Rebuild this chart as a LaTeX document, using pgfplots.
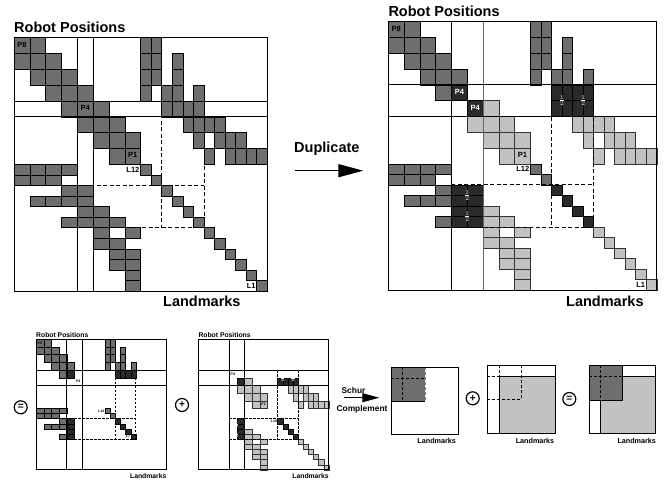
\documentclass[border=0pt]{standalone}
\usepackage{pgfplots}
\pgfplotsset{compat=1.18}
\usepackage{fontspec}
\setmainfont{Liberation Sans}
\usetikzlibrary{arrows.meta}
\definecolor{cdark}{RGB}{110,110,110}
\definecolor{clight}{RGB}{194,194,194}
\definecolor{cblk}{RGB}{42,42,42}
\newcommand{\fs}[1]{\fontsize{#1}{#1}\selectfont}

% cell lists: row/col block indices (poses first, then landmarks)
\def\Ldark{0/0,0/1,1/0,1/1,1/2,2/1,2/2,2/3,3/2,3/3,3/4,4/3,4/4,4/5,5/4,5/5,5/6,6/5,6/6,6/7,7/6,7/7,%
0/8,0/9,1/8,1/9,1/11,2/8,2/9,2/11,3/8,3/10,3/11,3/13,4/10,4/11,4/12,4/13,5/12,5/13,5/14,5/15,6/13,6/15,6/16,6/17,7/14,7/16,7/17,7/18,7/19,%
8/0,8/1,8/2,8/3,9/0,9/1,9/2,10/3,10/4,11/1,11/2,11/3,11/4,12/4,12/5,13/3,13/4,13/5,13/6,14/5,14/7,15/5,15/6,16/6,16/7,17/6,17/7,18/7,19/7,%
8/8,9/9,10/10,11/11,12/12,13/13,14/14,15/15,16/16,17/17,18/18,19/19}
\def\Ddark{0/0,0/1,1/0,1/1,1/2,2/1,2/2,2/3,3/2,3/3,3/4,4/3,%
0/9,0/10,1/9,1/10,1/12,2/9,2/10,2/12,3/9,3/11,3/12,3/14,%
9/0,9/1,9/2,9/3,10/0,10/1,10/2,11/3,12/1,12/2,12/3,14/3,9/9,10/10}
\def\Dblkone{4/4,4/11,4/12,4/13,4/14,11/4,12/4,13/4,14/4,11/11,12/12,13/13,14/14}
\def\Dblktwo{5/5,5/11,5/12,5/13,5/14,11/5,12/5,13/5,14/5,11/11,12/12,13/13,14/14}
\def\Dlight{5/6,6/5,6/6,6/7,7/6,7/7,7/8,8/7,8/8,%
6/13,6/14,6/15,6/16,7/14,7/16,7/17,7/18,8/15,8/17,8/18,8/19,8/20,%
13/6,14/6,14/7,15/6,15/8,16/6,16/7,17/7,17/8,18/7,18/8,19/8,20/8,%
15/15,16/16,17/17,18/18,19/19,20/20}

\newcommand{\cells}[6]{%
  \foreach \ri/\ci in #6 {%
    \pgfmathsetmacro\sa{(\ci<#4) ? (3*\ci) : (2*\ci+#4)}%
    \pgfmathsetmacro\wa{(\ci<#4) ? 3 : 2}%
    \pgfmathsetmacro\sb{(\ri<#4) ? (3*\ri) : (2*\ri+#4)}%
    \pgfmathsetmacro\wb{(\ri<#4) ? 3 : 2}%
    \pgfmathsetmacro\xa{#1+#3*\sa}%
    \pgfmathsetmacro\xb{#1+#3*(\sa+\wa)}%
    \pgfmathsetmacro\ya{#2+#3*\sb}%
    \pgfmathsetmacro\yb{#2+#3*(\sb+\wb)}%
    \edef\doit{\noexpand\addplot[#5] coordinates {(\xa,\ya) (\xb,\ya) (\xb,\yb) (\xa,\yb)} -- cycle;}%
    \doit
  }%
}
\newcommand{\seg}[8]{%
  \pgfmathsetmacro\xa{#1+#3*(#4)}\pgfmathsetmacro\ya{#2+#3*(#5)}%
  \pgfmathsetmacro\xb{#1+#3*(#6)}\pgfmathsetmacro\yb{#2+#3*(#7)}%
  \edef\doit{\noexpand\addplot[#8] coordinates {(\xa,\ya) (\xb,\yb)};}\doit}
\newcommand{\mybox}[5]{%
  \pgfmathsetmacro\xb{#1+#3*#4}\pgfmathsetmacro\yb{#2+#3*#4}%
  \edef\doit{\noexpand\addplot[#5] coordinates {(#1,#2) (\xb,#2) (\xb,\yb) (#1,\yb)} -- cycle;}\doit}
\newcommand{\lab}[7]{%
  \pgfmathsetmacro\xa{#1+#3*(#4)}\pgfmathsetmacro\ya{#2+#3*(#5)}%
  \edef\doit{\noexpand\node[\unexpanded{#6}] at (axis cs:\xa,\ya) {\unexpanded{#7}};}\doit}

\pgfplotsset{
  dk/.style={fill=cdark,draw=black,line width=0.6pt},
  lt/.style={fill=clight,draw=black!80,line width=0.6pt},
  bk/.style={fill=cblk,draw=black,line width=0.6pt},
  sdk/.style={fill=cdark,draw=black,line width=0.35pt},
  slt/.style={fill=clight,draw=black!80,line width=0.35pt},
  sbk/.style={fill=cblk,draw=black,line width=0.35pt},
  dsh/.style={black,line width=1pt,dash pattern=on 4pt off 2.5pt},
  sdsh/.style={black,line width=0.7pt,dash pattern=on 2.5pt off 1.5pt},
}

\begin{document}
\begin{tikzpicture}
\begin{axis}[
  scale only axis, width=671pt, height=480pt,
  xmin=0, xmax=671, ymin=0, ymax=480, y dir=reverse,
  hide axis, clip=false,
]
\addplot[draw=none] coordinates {(0,0) (671,480)};

% ---------- left big matrix ----------
\cells{14}{37.7}{5.278}{8}{dk}{\Ldark}
\mybox{14}{37.7}{5.278}{48}{black,line width=1pt}
\seg{14}{37.7}{5.278}{12}{0}{12}{48}{black,line width=1pt}
\seg{14}{37.7}{5.278}{15}{0}{15}{48}{black,line width=1pt}
\seg{14}{37.7}{5.278}{0}{12}{48}{12}{black,line width=1pt}
\seg{14}{37.7}{5.278}{0}{15}{48}{15}{black,line width=1pt}
\seg{14}{37.7}{5.278}{28}{12}{28}{36}{dsh}
\seg{14}{37.7}{5.278}{36}{12}{36}{36}{dsh}
\seg{14}{37.7}{5.278}{12}{28}{36}{28}{dsh}
\seg{14}{37.7}{5.278}{12}{36}{36}{36}{dsh}
\lab{14}{37.7}{5.278}{1.5}{1.4}{font=\bfseries\fs{7.5},inner sep=0pt}{P8}
\lab{14}{37.7}{5.278}{13.5}{13.3}{font=\bfseries\fs{7.5},inner sep=0pt}{P4}
\lab{14}{37.7}{5.278}{22.5}{22.3}{font=\bfseries\fs{7.5},inner sep=0pt}{P1}
\lab{14}{37.7}{5.278}{23.8}{25}{anchor=east,font=\bfseries\fs{7.5},inner sep=0pt}{L12}
\lab{14}{37.7}{5.278}{45.8}{47}{anchor=east,font=\bfseries\fs{7.5},inner sep=0pt}{L1}
\node[anchor=base west,font=\bfseries\fs{14.5},inner sep=0pt] at (axis cs:14,32.7) {Robot Positions};
\node[anchor=base west,font=\bfseries\fs{14.5},inner sep=0pt] at (axis cs:163,306) {Landmarks};

% ---------- arrow Duplicate ----------
\node[anchor=base west,font=\bfseries\fs{14.5},inner sep=0pt] at (axis cs:294,152.3) {Duplicate};
\addplot[black,line width=1.3pt,-{Triangle[length=25pt,width=13pt]}] coordinates {(295,170.7) (363.3,170.7)};

% ---------- right big matrix ----------
\cells{388.3}{21.7}{5.265}{9}{dk}{\Ddark}
\cells{388.3}{21.7}{5.265}{9}{lt}{\Dlight}
\cells{388.3}{21.7}{5.265}{9}{bk}{\Dblkone}
\cells{388.3}{21.7}{5.265}{9}{bk}{\Dblktwo}
\mybox{388.3}{21.7}{5.265}{51}{black,line width=1pt}
\seg{388.3}{21.7}{5.265}{12}{0}{12}{51}{black,line width=1pt}
\seg{388.3}{21.7}{5.265}{18}{0}{18}{51}{black!60,line width=1pt}
\seg{388.3}{21.7}{5.265}{0}{12}{51}{12}{black,line width=1pt}
\seg{388.3}{21.7}{5.265}{0}{18}{51}{18}{black,line width=1pt}
\seg{388.3}{21.7}{5.265}{31}{12}{31}{39}{dsh}
\seg{388.3}{21.7}{5.265}{39}{12}{39}{39}{dsh}
\seg{388.3}{21.7}{5.265}{12}{31}{39}{31}{dsh}
\seg{388.3}{21.7}{5.265}{12}{39}{39}{39}{dsh}
\lab{388.3}{21.7}{5.265}{1.5}{1.4}{font=\bfseries\fs{7.5},inner sep=0pt}{P8}
\lab{388.3}{21.7}{5.265}{13.5}{13.3}{text=white,font=\bfseries\fs{7.5},inner sep=0pt}{P4}
\lab{388.3}{21.7}{5.265}{16.5}{16.3}{text=white,font=\bfseries\fs{7.5},inner sep=0pt}{P4}
\lab{388.3}{21.7}{5.265}{25.5}{25.3}{font=\bfseries\fs{7.5},inner sep=0pt}{P1}
\lab{388.3}{21.7}{5.265}{26.8}{28}{anchor=east,font=\bfseries\fs{7.5},inner sep=0pt}{L12}
\lab{388.3}{21.7}{5.265}{48.8}{50}{anchor=east,font=\bfseries\fs{7.5},inner sep=0pt}{L1}
\lab{388.3}{21.7}{5.265}{33}{15}{text=white,font=\fs{9},inner sep=0pt}{$\frac{1}{2}$}
\lab{388.3}{21.7}{5.265}{37}{15}{text=white,font=\fs{9},inner sep=0pt}{$\frac{1}{2}$}
\lab{388.3}{21.7}{5.265}{15}{33}{text=white,font=\fs{9},inner sep=0pt}{$\frac{1}{2}$}
\lab{388.3}{21.7}{5.265}{15}{37}{text=white,font=\fs{9},inner sep=0pt}{$\frac{1}{2}$}
\node[anchor=base west,font=\bfseries\fs{14.5},inner sep=0pt] at (axis cs:388.3,16.7) {Robot Positions};
\node[anchor=base west,font=\bfseries\fs{14.5},inner sep=0pt] at (axis cs:566,306) {Landmarks};

% ---------- small matrix 1 ----------
\cells{36}{339.3}{2.56}{9}{sdk}{\Ddark}
\cells{36}{339.3}{2.56}{9}{sbk}{\Dblkone}
\mybox{36}{339.3}{2.56}{51}{black,line width=0.8pt}
\seg{36}{339.3}{2.56}{12}{0}{12}{51}{black,line width=0.8pt}
\seg{36}{339.3}{2.56}{18}{0}{18}{51}{black,line width=0.8pt}
\seg{36}{339.3}{2.56}{0}{12}{51}{12}{black,line width=0.8pt}
\seg{36}{339.3}{2.56}{0}{18}{51}{18}{black,line width=0.8pt}
\seg{36}{339.3}{2.56}{31}{15}{31}{39}{sdsh}
\seg{36}{339.3}{2.56}{39}{15}{39}{39}{sdsh}
\seg{36}{339.3}{2.56}{15}{31}{39}{31}{sdsh}
\seg{36}{339.3}{2.56}{15}{39}{39}{39}{sdsh}
\lab{36}{339.3}{2.56}{1.5}{1.5}{font=\bfseries\fs{3.5},inner sep=0pt}{P8}
\lab{36}{339.3}{2.56}{16.5}{16.5}{font=\bfseries\fs{3.5},inner sep=0pt}{P4}
\lab{36}{339.3}{2.56}{26.8}{28}{anchor=east,font=\bfseries\fs{3.5},inner sep=0pt}{L12}
\lab{36}{339.3}{2.56}{36.8}{38}{anchor=east,font=\bfseries\fs{3.5},inner sep=0pt}{L7}
\node[anchor=base west,font=\bfseries\fs{6.8},inner sep=0pt] at (axis cs:36,337) {Robot Positions};
\node[anchor=base east,font=\bfseries\fs{6.8},inner sep=0pt] at (axis cs:166.6,478) {Landmarks};

% ---------- small matrix 2 ----------
\cells{198.3}{339.3}{2.56}{9}{slt}{\Dlight}
\cells{198.3}{339.3}{2.56}{9}{sbk}{\Dblktwo}
\mybox{198.3}{339.3}{2.56}{51}{black,line width=0.8pt}
\seg{198.3}{339.3}{2.56}{12}{0}{12}{51}{black,line width=0.8pt}
\seg{198.3}{339.3}{2.56}{18}{0}{18}{51}{black,line width=0.8pt}
\seg{198.3}{339.3}{2.56}{0}{12}{51}{12}{black,line width=0.8pt}
\seg{198.3}{339.3}{2.56}{0}{18}{51}{18}{black,line width=0.8pt}
\seg{198.3}{339.3}{2.56}{31}{12}{31}{39}{sdsh}
\seg{198.3}{339.3}{2.56}{39}{12}{39}{39}{sdsh}
\seg{198.3}{339.3}{2.56}{12}{31}{39}{31}{sdsh}
\seg{198.3}{339.3}{2.56}{12}{39}{39}{39}{sdsh}
\lab{198.3}{339.3}{2.56}{13.5}{13.8}{font=\bfseries\fs{3.5},inner sep=0pt}{P4}
\lab{198.3}{339.3}{2.56}{25.5}{25.5}{font=\bfseries\fs{3.5},inner sep=0pt}{P1}
\lab{198.3}{339.3}{2.56}{30.8}{32}{anchor=east,font=\bfseries\fs{3.5},inner sep=0pt}{L10}
\lab{198.3}{339.3}{2.56}{33}{15}{text=white,font=\fs{4.5},inner sep=0pt}{$\frac{1}{2}$}
\lab{198.3}{339.3}{2.56}{37}{15}{text=white,font=\fs{4.5},inner sep=0pt}{$\frac{1}{2}$}
\lab{198.3}{339.3}{2.56}{15}{33}{text=white,font=\fs{4.5},inner sep=0pt}{$\frac{1}{2}$}
\lab{198.3}{339.3}{2.56}{15}{37}{text=white,font=\fs{4.5},inner sep=0pt}{$\frac{1}{2}$}
\node[anchor=base west,font=\bfseries\fs{6.8},inner sep=0pt] at (axis cs:198.3,337) {Robot Positions};
\node[anchor=base east,font=\bfseries\fs{6.8},inner sep=0pt] at (axis cs:328.9,478) {Landmarks};

% ---------- circled operators ----------
\addplot[black,only marks,mark=o,mark size=6.5pt,mark options={line width=1.2pt}] coordinates {(20.7,407.3) (182,405) (472.7,398.3) (569.3,399)};
\node[font=\bfseries\fs{10},inner sep=0pt] at (axis cs:20.7,407.3) {=};
\node[font=\bfseries\fs{10},inner sep=0pt] at (axis cs:182,405) {+};
\node[font=\bfseries\fs{10},inner sep=0pt] at (axis cs:472.7,398.3) {+};
\node[font=\bfseries\fs{10},inner sep=0pt] at (axis cs:569.3,399) {=};

% ---------- Schur complement ----------
\node[font=\bfseries\fs{8.4},inner sep=0pt] at (axis cs:353.5,390) {Schur};
\node[font=\bfseries\fs{8.4},inner sep=0pt] at (axis cs:362,409.3) {Complement};
\addplot[black,line width=1pt,-{Triangle[length=17pt,width=9pt]}] coordinates {(344.3,397.7) (379.3,397.7)};

% square 1
\addplot[fill=cdark,draw=none] coordinates {(391,367.3) (425,367.3) (425,401) (391,401)} -- cycle;
\addplot[black,line width=0.8pt] coordinates {(391,401) (425,401)};
\addplot[black!50,line width=0.8pt,dash pattern=on 3pt off 2pt] coordinates {(425,367.3) (425,401)};
\addplot[black,line width=0.8pt,dash pattern=on 3pt off 2pt] coordinates {(402.3,367.3) (402.3,401)};
\addplot[black,line width=0.8pt,dash pattern=on 3pt off 2pt] coordinates {(391,378.3) (425,378.3)};
\addplot[black,line width=1pt] coordinates {(391,367.3) (458.3,367.3) (458.3,434) (391,434)} -- cycle;
\node[font=\bfseries\fs{7.2},inner sep=0pt] at (axis cs:436.7,441) {Landmarks};

% square 2
\addplot[fill=clight,draw=none] coordinates {(499.3,376.7) (555.7,376.7) (555.7,433.3) (499.3,433.3)} -- cycle;
\addplot[black,line width=0.8pt] coordinates {(499.3,433.3) (499.3,376.7) (555.7,376.7)};
\addplot[black,line width=0.8pt,dash pattern=on 3pt off 2pt] coordinates {(499.3,365) (499.3,376.7)};
\addplot[black,line width=0.8pt,dash pattern=on 3pt off 2pt] coordinates {(487.3,376.7) (499.3,376.7)};
\addplot[black,line width=0.8pt,dash pattern=on 3pt off 2pt] coordinates {(521.7,365) (521.7,399.3)};
\addplot[black,line width=0.8pt,dash pattern=on 3pt off 2pt] coordinates {(487.3,399.3) (521.7,399.3)};
\addplot[black,line width=1pt] coordinates {(487.3,365) (555.7,365) (555.7,433.3) (487.3,433.3)} -- cycle;
\node[font=\bfseries\fs{7.2},inner sep=0pt] at (axis cs:535,441) {Landmarks};

% square 3
\addplot[fill=clight,draw=none] coordinates {(600,376.7) (655.7,376.7) (655.7,433.3) (600,433.3)} -- cycle;
\addplot[fill=cdark,draw=black,line width=0.8pt] coordinates {(589,365) (622.7,365) (622.7,400) (589,400)} -- cycle;
\addplot[black,line width=0.8pt] coordinates {(622.7,376.7) (655.7,376.7)};
\addplot[black,line width=0.8pt] coordinates {(600,400) (600,433.3)};
\addplot[black,line width=0.8pt,dash pattern=on 3pt off 2pt] coordinates {(600,365) (600,400)};
\addplot[black,line width=0.8pt,dash pattern=on 3pt off 2pt] coordinates {(589,376.7) (622.7,376.7)};
\addplot[black,line width=1pt] coordinates {(589,365) (655.7,365) (655.7,433.3) (589,433.3)} -- cycle;
\node[font=\bfseries\fs{7.2},inner sep=0pt] at (axis cs:636.7,441) {Landmarks};
\end{axis}
\end{tikzpicture}
\end{document}
